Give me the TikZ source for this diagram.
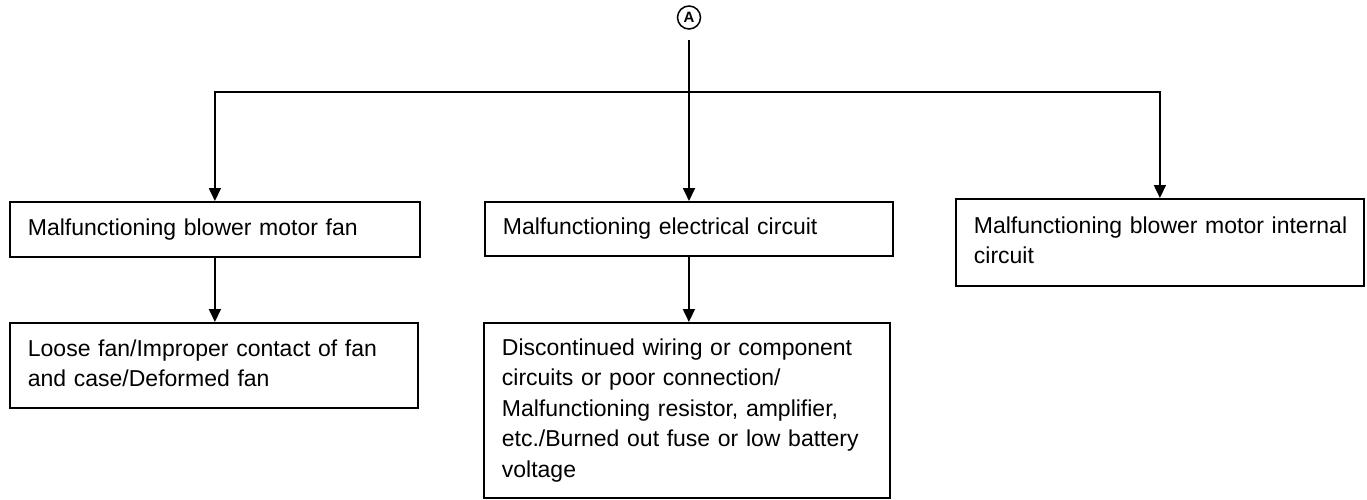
\documentclass[tikz,border=0pt]{standalone}
\usepackage{fontspec}
\setmainfont{Liberation Sans}
\usetikzlibrary{arrows.meta}
\newcommand{\nohyph}{\hyphenpenalty=10000\relax\exhyphenpenalty=10000\relax}
\begin{document}
\begin{tikzpicture}[x=1pt,y=-1pt,
  box/.style={draw, line width=1.8pt, anchor=north west, inner xsep=18pt, inner ysep=0pt,
    align=left, font=\fontsize{23}{30.5}\selectfont, execute at begin node=\nohyph},
  arr/.style={line width=1.8pt, -{Triangle[length=13pt,width=12pt]}}
]
\useasboundingbox (0,0) rectangle (1367,500);
\node[circle, draw, line width=1.5pt, minimum size=23pt, inner sep=0pt,
  font=\bfseries\fontsize{15}{15}\selectfont] (A) at (689,17.5) {A};
\node[box, text width=374pt, minimum height=55pt] (fan) at (9,201)
  {\rule{0pt}{17pt}Malfunctioning blower motor fan\rule[-5pt]{0pt}{5pt}};
\node[box, text width=372pt, minimum height=54pt] (elec) at (484,201)
  {\rule{0pt}{17pt}Malfunctioning electrical circuit\rule[-5pt]{0pt}{5pt}};
\node[box, text width=372pt, minimum height=87pt] (internal) at (955,198)
  {\rule{0pt}{17pt}\mbox{Malfunctioning blower motor internal}\\circuit\rule[-5pt]{0pt}{5pt}};
\node[box, text width=372pt, minimum height=85pt] (loose) at (9,322)
  {\rule{0pt}{17pt}Loose fan/Improper contact of fan\\and case/Deformed fan\rule[-5pt]{0pt}{5pt}};
\node[box, text width=370pt, minimum height=175pt] (disc) at (483,322)
  {\rule{0pt}{17pt}Discontinued wiring or component\\circuits or poor connection/\\Malfunctioning resistor, amplifier,\\etc./Burned out fuse or low battery\\voltage\rule[-5pt]{0pt}{5pt}};
\coordinate (J) at (689,92);
\draw[arr, shorten <=10pt] (A.south) -- (A.south |- elec.north);
\draw[arr] (J) -| (fan.north);
\draw[arr] (J) -| (internal.north);
\draw[arr] (fan.south) -- (fan.south |- loose.north);
\draw[arr] (elec.south) -- (elec.south |- disc.north);
\end{tikzpicture}
\end{document}
